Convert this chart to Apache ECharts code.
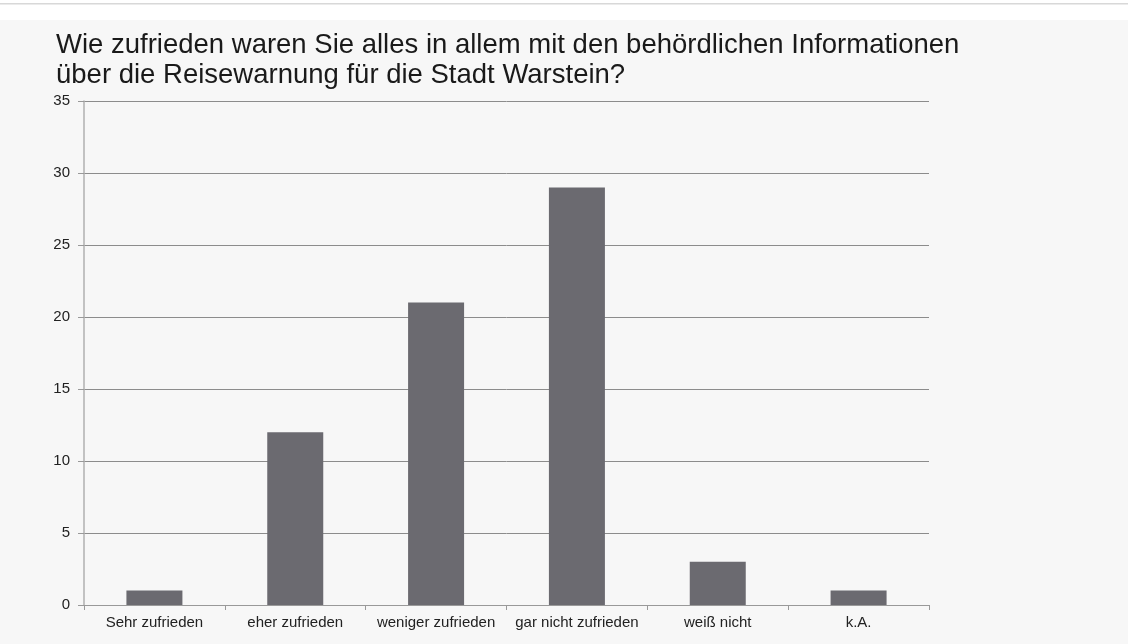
<!DOCTYPE html>
<html><head><meta charset="utf-8">
<script src="https://cdn.jsdelivr.net/npm/echarts@6/dist/echarts.min.js"></script>
<style>html,body{margin:0;padding:0;background:#fff}#c{width:1128px;height:644px}</style>
</head><body><div id="c"></div>
<script>
const titleLines = ["Wie zufrieden waren Sie alles in allem mit den behördlichen Informationen", "über die Reisewarnung für die Stadt Warstein?"];
const categories = ["Sehr zufrieden", "eher zufrieden", "weniger zufrieden", "gar nicht zufrieden", "weiß nicht", "k.A."];
const values = [1, 12, 21, 29, 3, 1];
const yTicks = [0, 5, 10, 15, 20, 25, 30, 35];

const chart = echarts.init(document.getElementById('c'));
chart.setOption({
  backgroundColor: '#ffffff',
  animation: false,
  graphic: [
    {type: 'rect', shape: {x: 0, y: 20, width: 1128, height: 624}, style: {fill: '#f7f7f7'}, z: -10},
    {type: 'rect', shape: {x: 0, y: 3, width: 1128, height: 1.5}, style: {fill: '#d8d8d8'}, z: -10},
    {type: 'text', left: 56, top: 30, style: {text: titleLines.join('\n'), font: '27.5px "Liberation Sans", Arial, sans-serif', fill: '#1a1a1a', lineHeight: 30}}
  ],
  grid: {left: 84, right: 199, top: 101, bottom: 39, containLabel: false},
  xAxis: {
    type: 'category', data: categories,
    axisLine: {lineStyle: {color: '#999', width: 1}},
    axisTick: {show: true, alignWithLabel: false, length: 5, lineStyle: {color: '#999'}},
    axisLabel: {color: '#222', fontSize: 15, fontFamily: '"Liberation Sans", Arial, sans-serif', margin: 10, interval: 0}
  },
  yAxis: {
    type: 'value', min: 0, max: 35, interval: 5,
    axisLine: {show: true, lineStyle: {color: '#b0b0b0', width: 1.5}},
    axisTick: {show: true, length: 6, lineStyle: {color: '#999'}},
    splitLine: {lineStyle: {color: '#8c8c8c', width: 1}},
    axisLabel: {color: '#222', fontSize: 15, fontFamily: '"Liberation Sans", Arial, sans-serif', margin: 14,
      formatter: v => yTicks.includes(v) ? String(v) : ''}
  },
  series: [{
    type: 'bar', data: values, barWidth: 56,
    itemStyle: {color: '#6b6a70'}
  }]
});
</script></body></html>
